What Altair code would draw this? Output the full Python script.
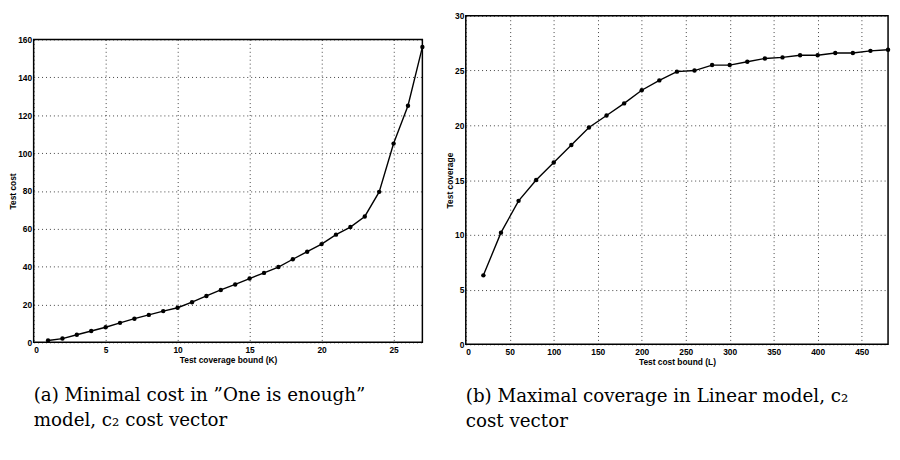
import altair as alt
import pandas as pd

# ---- data ----
left_k = [1, 2, 3, 4, 5, 6, 7, 8, 9, 10, 11, 12, 13, 14, 15, 16, 17, 18, 19, 20,
          21, 22, 23, 24, 25, 26, 27]
left_cost = [1, 2, 4, 6, 8, 10.3, 12.5, 14.5, 16.5, 18.3, 21.2, 24.5, 27.7, 30.6,
             33.7, 36.7, 39.8, 43.9, 47.9, 51.9, 56.9, 60.9, 66.5, 79.5, 105, 125, 156]

right_L = [20, 40, 60, 80, 100, 120, 140, 160, 180, 200, 220, 240, 260, 280, 300,
           320, 340, 360, 380, 400, 420, 440, 460, 480]
right_cov = [6.3, 10.2, 13.1, 15.0, 16.6, 18.2, 19.8, 20.9, 22.0, 23.2, 24.1, 24.9,
             25.0, 25.5, 25.5, 25.8, 26.1, 26.2, 26.4, 26.4, 26.6, 26.6, 26.8, 26.9]

left_x_ticks = [0, 5, 10, 15, 20, 25]
left_y_ticks = [0, 20, 40, 60, 80, 100, 120, 140, 160]
right_x_ticks = [0, 50, 100, 150, 200, 250, 300, 350, 400, 450]
right_y_ticks = [0, 5, 10, 15, 20, 25, 30]

caption_a = ["(a) Minimal cost in \u201dOne is enough\u201d", "model, c\u2082 cost vector"]
caption_b = ["(b) Maximal coverage in Linear model, c\u2082", "cost vector"]

AX = dict(labelFont="Liberation Sans", labelFontWeight="bold", labelFontSize=8.5,
          titleFont="Liberation Sans", titleFontWeight="bold", titleFontSize=8.5,
          labelColor="black", titleColor="black", domain=False, ticks=False,
          grid=True, gridColor="black", gridDash=[1, 3], gridOpacity=0.75,
          gridWidth=1)


def panel(df, xf, yf, xdom, ydom, xticks, yticks, xtitle, ytitle, w, h, caption, cap_off):
    base = alt.Chart(df).encode(
        x=alt.X(f"{xf}:Q",
                scale=alt.Scale(domain=xdom, nice=False, zero=False),
                axis=alt.Axis(values=xticks, title=xtitle, labelPadding=3,
                              titlePadding=2, **AX)),
        y=alt.Y(f"{yf}:Q",
                scale=alt.Scale(domain=ydom, nice=False, zero=False),
                axis=alt.Axis(values=yticks, title=ytitle, labelPadding=2,
                              titlePadding=0, **AX)),
    )
    line = base.mark_line(color="black", strokeWidth=1.4)
    pts = base.mark_circle(color="black", size=20, opacity=1)
    return alt.layer(line, pts).properties(
        width=w, height=h,
        title=alt.TitleParams(caption, orient="bottom", anchor="start",
                              frame="group", font="DejaVu Serif",
                              fontSize=18.5, fontWeight="normal", lineHeight=26,
                              offset=cap_off, color="black"))


df_left = pd.DataFrame({"K": left_k, "cost": left_cost})
df_right = pd.DataFrame({"L": right_L, "cov": right_cov})

left = panel(df_left, "K", "cost", [0, 27], [0, 160], left_x_ticks, left_y_ticks,
             "Test coverage bound (K)", "Test cost", 394, 307, caption_a, 22)
right = panel(df_right, "L", "cov", [0, 480], [0, 30], right_x_ticks, right_y_ticks,
              "Test cost bound (L)", "Test coverage", 428, 333, caption_b, 21)

spacer = alt.Chart(pd.DataFrame({"a": [0]})).mark_point(opacity=0).encode(
    x=alt.X("a:Q", axis=None), y=alt.Y("a:Q", axis=None)
).properties(width=10, height=19, view=alt.ViewBackground(strokeOpacity=0))

left_wrap = alt.vconcat(spacer, left, spacing=0)

chart = alt.hconcat(left_wrap, right, spacing=18).properties(
    padding=0, background="white"
).configure_view(stroke="black", strokeWidth=1.5)

chart.save("out.html", embed_options={"renderer": "svg", "actions": False})
